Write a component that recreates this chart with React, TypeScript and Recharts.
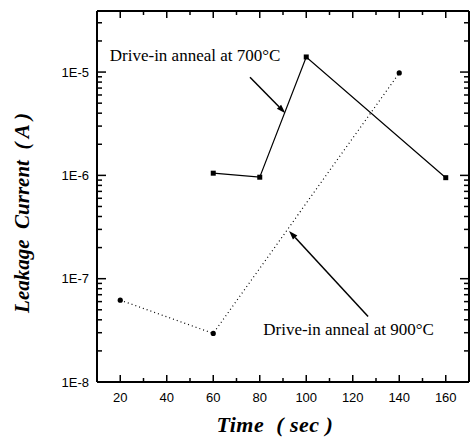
import React from "react";
import {
  LineChart,
  Line,
  XAxis,
  YAxis,
  ReferenceLine,
  ReferenceDot,
} from "recharts";

// leakage current vs time for the two drive-in anneal temperatures
const ANNEAL_700 = [
  { time: 60, current: 1.05e-6 },
  { time: 80, current: 9.6e-7 },
  { time: 100, current: 1.4e-5 },
  { time: 160, current: 9.5e-7 },
];

const ANNEAL_900 = [
  { time: 20, current: 6.2e-8 },
  { time: 60, current: 2.95e-8 },
  { time: 140, current: 9.8e-6 },
];

const X_TICKS = [20, 30, 40, 50, 60, 70, 80, 90, 100, 110, 120, 130, 140, 150, 160];
const X_LABELS = [20, 40, 60, 80, 100, 120, 140, 160];
const DECADES = [1e-8, 1e-7, 1e-6, 1e-5];
const DECADE_LABELS = ["1E-8", "1E-7", "1E-6", "1E-5"];
const MINOR_STEPS = [2, 3, 4, 5, 6, 7, 8, 9];
const Y_MAX = 3.9e-5;

const Y_TICKS = DECADES.flatMap((d) => [d, ...MINOR_STEPS.map((m) => m * d)]).filter(
  (v) => v <= Y_MAX
);

// annotation text + arrows, in data units
const NOTES = [
  { text: "Drive-in anneal at 700°C", time: 15.5, current: 1.45e-5 },
  { text: "Drive-in anneal at 900°C", time: 81.5, current: 3.2e-8 },
];
const ARROWS = [
  { from: { time: 75.8, current: 8.9e-6 }, to: { time: 91, current: 4.0e-6 } },
  { from: { time: 126.6, current: 4.3e-8 }, to: { time: 92.6, current: 2.9e-7 } },
];

const SANS = "'Liberation Sans', Arial, sans-serif";
const SERIF = "'Liberation Serif', 'Times New Roman', serif";
const TICK_COLOR = "#000";

function decadeIndex(v: number) {
  return DECADES.findIndex((d) => Math.abs(v - d) / d < 1e-6);
}

function LeftTick(props: any) {
  const { x, y, payload } = props;
  const idx = decadeIndex(payload.value);
  const major = idx >= 0;
  return (
    <g>
      <line x1={x} y1={y} x2={x + (major ? 9 : 5)} y2={y} stroke={TICK_COLOR} strokeWidth={1.5} />
      {major && (
        <text x={x - 8} y={y} dy={4.5} textAnchor="end" fontFamily={SANS} fontSize={13} fill="#000">
          {DECADE_LABELS[idx]}
        </text>
      )}
    </g>
  );
}

function RightTick(props: any) {
  const { x, y, payload } = props;
  const major = decadeIndex(payload.value) >= 0;
  return <line x1={x} y1={y} x2={x - (major ? 9 : 5)} y2={y} stroke={TICK_COLOR} strokeWidth={1.5} />;
}

function BottomTick(props: any) {
  const { x, y, payload } = props;
  const v = payload.value;
  const major = X_LABELS.includes(v);
  return (
    <g>
      <line x1={x} y1={y} x2={x} y2={y - (major ? 7 : 4)} stroke={TICK_COLOR} strokeWidth={1.5} />
      {major && (
        <text x={x} y={y + 20} textAnchor="middle" fontFamily={SANS} fontSize={13} fill="#000">
          {v}
        </text>
      )}
    </g>
  );
}

function TopTick(props: any) {
  const { x, y, payload } = props;
  const major = X_LABELS.includes(payload.value);
  return <line x1={x} y1={y} x2={x} y2={y + (major ? 7 : 4)} stroke={TICK_COLOR} strokeWidth={1.5} />;
}

function SquareDot({ cx, cy }: any) {
  if (cx == null || cy == null) return null;
  return <rect x={cx - 2.5} y={cy - 2.5} width={5} height={5} fill="#000" />;
}

function Arrow({ x1, y1, x2, y2 }: any) {
  const a = Math.atan2(y2 - y1, x2 - x1);
  const len = 9;
  const w = 3;
  const bx = x2 - len * Math.cos(a);
  const by = y2 - len * Math.sin(a);
  const px = -Math.sin(a) * w;
  const py = Math.cos(a) * w;
  return (
    <g>
      <line x1={x1} y1={y1} x2={bx} y2={by} stroke="#000" strokeWidth={1.5} />
      <polygon points={`${x2},${y2} ${bx + px},${by + py} ${bx - px},${by - py}`} fill="#000" />
    </g>
  );
}

function YTitle() {
  return (
    <text
      x={22}
      y={213}
      transform="rotate(-90 22 213)"
      textAnchor="middle"
      dominantBaseline="central"
      fontFamily={SERIF}
      fontWeight="bold"
      fontStyle="italic"
      fontSize={21}
      fill="#000"
      style={{ whiteSpace: "pre" }}
    >
      {"Leakage  Current  ( A )"}
    </text>
  );
}

function XTitle() {
  return (
    <text
      x={275}
      y={424}
      textAnchor="middle"
      dominantBaseline="central"
      fontFamily={SERIF}
      fontWeight="bold"
      fontStyle="italic"
      fontSize={22}
      letterSpacing={0.5}
      fill="#000"
      style={{ whiteSpace: "pre" }}
    >
      {"Time  ( sec )"}
    </text>
  );
}

export default function App() {
  return (
    <div style={{ position: "absolute", left: 0, top: 0, background: "#fff" }}>
      <LineChart width={470} height={437} margin={{ top: 0, right: 0, bottom: 0, left: 0 }}>
        <XAxis
          xAxisId="b"
          dataKey="time"
          type="number"
          domain={[10, 170]}
          ticks={X_TICKS}
          interval={0}
          height={55}
          tickSize={0}
          tickMargin={0}
          tickLine={false}
          tick={<BottomTick />}
          axisLine={{ stroke: "#000", strokeWidth: 2 }}
          allowDataOverflow
          label={<XTitle />}
        />
        <XAxis
          xAxisId="t"
          orientation="top"
          dataKey="time"
          type="number"
          domain={[10, 170]}
          ticks={X_TICKS}
          interval={0}
          height={11}
          tickSize={0}
          tickMargin={0}
          tickLine={false}
          tick={<TopTick />}
          axisLine={{ stroke: "#000", strokeWidth: 2 }}
          allowDataOverflow
        />
        <YAxis
          yAxisId="l"
          type="number"
          scale="log"
          domain={[1e-8, Y_MAX]}
          ticks={Y_TICKS}
          interval={0}
          width={97}
          tickSize={0}
          tickMargin={0}
          tickLine={false}
          tick={<LeftTick />}
          axisLine={{ stroke: "#000", strokeWidth: 2 }}
          allowDataOverflow
          label={<YTitle />}
        />
        <YAxis
          yAxisId="r"
          orientation="right"
          type="number"
          scale="log"
          domain={[1e-8, Y_MAX]}
          ticks={Y_TICKS}
          interval={0}
          width={1}
          tickSize={0}
          tickMargin={0}
          tickLine={false}
          tick={<RightTick />}
          axisLine={{ stroke: "#000", strokeWidth: 2 }}
          allowDataOverflow
        />
        <Line
          xAxisId="b"
          yAxisId="l"
          data={ANNEAL_700}
          dataKey="current"
          stroke="#000"
          strokeWidth={1.2}
          dot={<SquareDot />}
          isAnimationActive={false}
        />
        <Line
          xAxisId="b"
          yAxisId="l"
          data={ANNEAL_900}
          dataKey="current"
          stroke="#000"
          strokeWidth={1.2}
          strokeDasharray="1 3"
          dot={{ r: 2.6, fill: "#000", stroke: "none" }}
          isAnimationActive={false}
        />
        {ARROWS.map((a, i) => (
          <ReferenceLine
            key={i}
            xAxisId="b"
            yAxisId="l"
            segment={[
              { x: a.from.time, y: a.from.current },
              { x: a.to.time, y: a.to.current },
            ]}
            ifOverflow="visible"
            shape={(p: any) => <Arrow {...p} />}
          />
        ))}
        {NOTES.map((n, i) => (
          <ReferenceDot
            key={i}
            xAxisId="b"
            yAxisId="l"
            x={n.time}
            y={n.current}
            r={0}
            ifOverflow="visible"
            shape={(p: any) => (
              <text
                x={p.cx}
                y={p.cy}
                dominantBaseline="central"
                fontFamily={SERIF}
                fontSize={17}
                fill="#000"
              >
                {n.text}
              </text>
            )}
          />
        ))}
      </LineChart>
    </div>
  );
}
